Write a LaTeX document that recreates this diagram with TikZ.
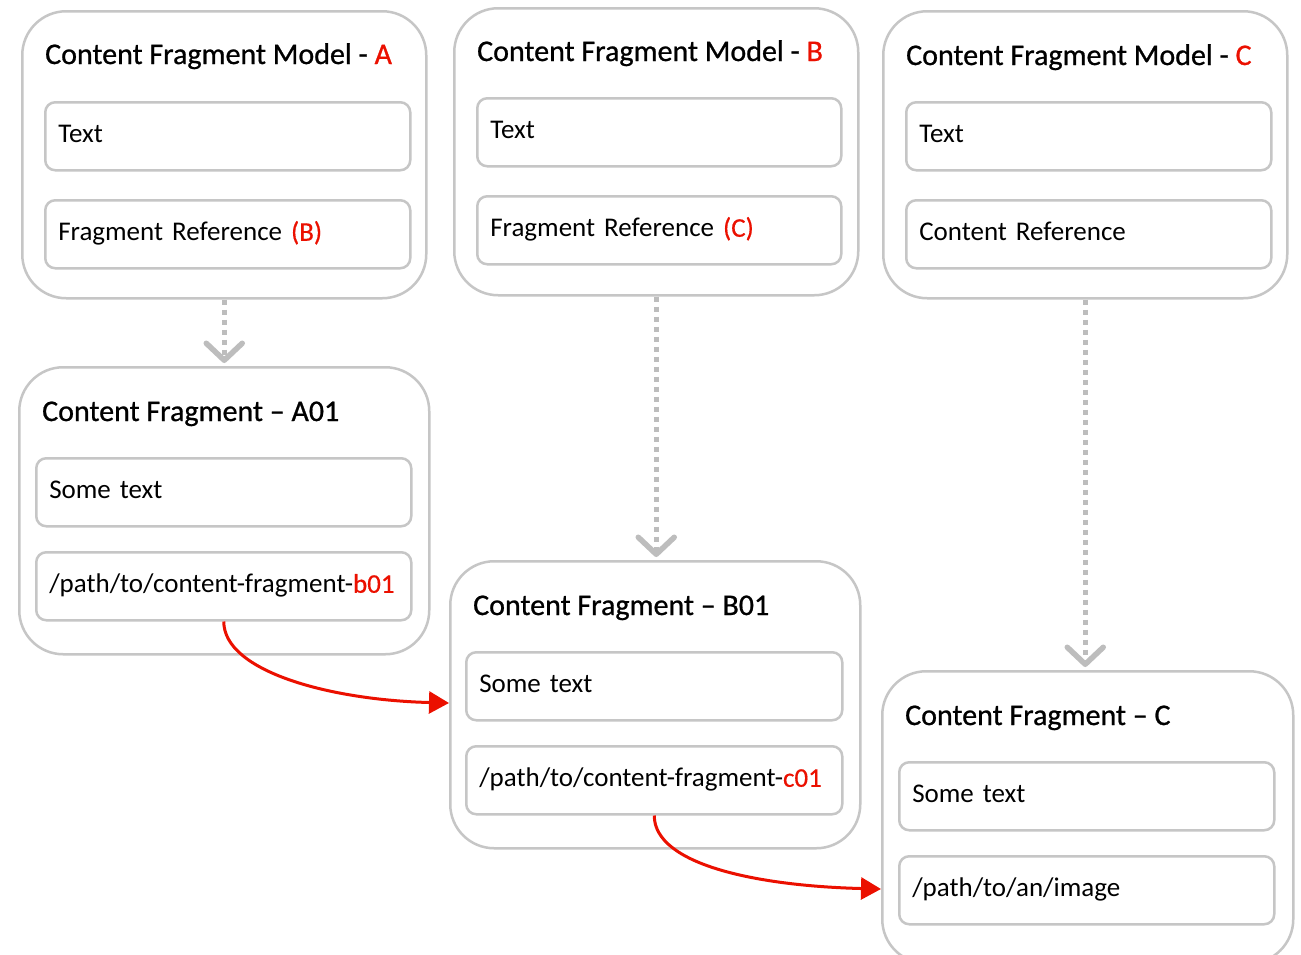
\documentclass[tikz,border=0pt]{standalone}
\usepackage{fontspec}
\setmainfont{Carlito}
\newfontfamily\tfont[FakeBold=0.8]{Carlito}
\newfontfamily\rfont[FakeBold=0.5]{Carlito}
\usetikzlibrary{arrows.meta,calc}
\definecolor{adred}{HTML}{EB1000}
\definecolor{boxgray}{HTML}{C6C6C6}
\definecolor{arrgray}{HTML}{BDBDBD}
\newcommand{\redtxt}[1]{\textcolor{adred}{\rfont #1}}
\begin{document}
\begin{tikzpicture}[x=1pt,y=-1pt,
  outer/.style={draw=boxgray, line width=2.5pt, rounded corners=44pt, anchor=north west, inner sep=0pt},
  inner/.style={draw=boxgray, line width=2.5pt, rounded corners=10pt, anchor=north west,
    minimum height=68pt, inner xsep=13pt, align=left,
    font=\fontsize{27}{32}\selectfont, text height=19pt, text depth=6pt},
  title/.style={anchor=base west, inner sep=0pt, font=\tfont\fontsize{30}{35}\selectfont},
  grayarrow/.style={draw=arrgray, line width=5pt, dash pattern=on 5pt off 5pt,
    -{Straight Barb[length=17pt,width=36pt,line width=5.5pt,round]}, shorten >=3pt},
  redarrow/.style={draw=adred, line width=3pt, -{Triangle[length=20pt,width=22pt]}}
]
\clip (0,0) rectangle (1301,954);
\fill[white] (0,0) rectangle (1301,954);

% Models
\node[outer, minimum width=404pt, minimum height=287pt] (mA) at (21,10) {};
\node[outer, minimum width=404pt, minimum height=287pt] (mB) at (453,7) {};
\node[outer, minimum width=404pt, minimum height=287pt] (mC) at (882,10) {};
% Fragments
\node[outer, minimum width=410pt, minimum height=287pt] (fA) at (18,366) {};
\node[outer, minimum width=410pt, minimum height=287pt] (fB) at (449,560) {};
\node[outer, minimum width=411pt, minimum height=292pt] (fC) at (881,670) {};

% Titles
\node[title] (tmA) at (45,64) {Content Fragment Model - \textcolor{adred}{A}};
\node[title] (tmB) at (477,61) {Content Fragment Model - \textcolor{adred}{B}};
\node[title] (tmC) at (906,65) {Content Fragment Model - \textcolor{adred}{C}};
\node[title] (tfA) at (42,421) {Content Fragment \textendash{} A01};
\node[title] (tfB) at (473,615) {Content Fragment \textendash{} B01};
\node[title] (tfC) at (905,725) {Content Fragment \textendash{} C};

% Inner boxes: models
\node[inner, text width=339pt] (mAt) at (44,101) {Text};
\node[inner, text width=339pt] (mAr) at (44,199) {Fragment Reference \redtxt{(B)}};
\node[inner, text width=338pt] (mBt) at (476,97) {Text};
\node[inner, text width=338pt] (mBr) at (476,195) {Fragment Reference \redtxt{(C)}};
\node[inner, text width=339pt] (mCt) at (905,101) {Text};
\node[inner, text width=339pt] (mCr) at (905,199) {Content Reference};

% Inner boxes: fragments
\node[inner, text width=349pt] (fAt) at (35,457) {Some text};
\node[inner, text width=349pt] (pA) at (35,551) {/path/to/content-fragment-\redtxt{b01}};
\node[inner, text width=350pt] (fBt) at (465,651) {Some text};
\node[inner, text width=350pt] (pB) at (465,745) {/path/to/content-fragment-\redtxt{c01}};
\node[inner, text width=349pt] (fCt) at (898,761) {Some text};
\node[inner, text width=349pt] (pC) at (898,855) {/path/to/an/image};

% Gray dotted arrows
\draw[grayarrow] (mA.south) -- (fA.north);
\draw[grayarrow] (mB.south) -- (mB.south |- fB.north);
\draw[grayarrow] (mC.south) -- (mC.south |- fC.north);

% Red reference arrows
\coordinate (tB) at (449,703);
\coordinate (tC) at (881,889);
\draw[redarrow] (pA.south) .. controls ($(pA.south)+(0,50)$) and (330,700) .. (tB);
\draw[redarrow] (pB.south) .. controls ($(pB.south)+(0,50)$) and (760,886) .. (tC);
\end{tikzpicture}
\end{document}
